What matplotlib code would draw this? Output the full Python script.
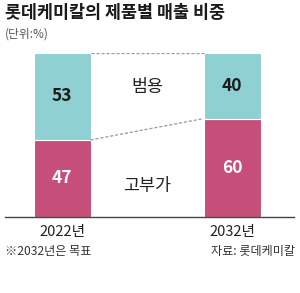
import matplotlib
matplotlib.use("Agg")
import matplotlib.pyplot as plt

plt.rcParams['font.family'] = ['Noto Sans CJK KR', 'DejaVu Sans']

years = ["2022년", "2032년"]
high_value = [47, 60]     # 고부가
general = [53, 40]        # 범용
title = "롯데케미칼의 제품별 매출 비중"
unit = "(단위:%)"
note = "※2032년은 목표"
source = "자료: 롯데케미칼"

teal = "#8fd0d2"
pink = "#c54f78"

W, H = 300, 293
fig = plt.figure(figsize=(W/100, H/100), dpi=100)
fig.patch.set_facecolor("white")

left_px, right_px, top_px, bot_px = 5, 294, 53, 217
ax = fig.add_axes([left_px/W, 1-bot_px/H, (right_px-left_px)/W, (bot_px-top_px)/H])
ax.set_ylim(0, 100)
unit_px = 170.0
c0 = 62
ax.set_xlim((left_px - c0)/unit_px, (right_px - c0)/unit_px)
bw = 57/unit_px
x = [0, 1]

ax.bar(x, high_value, width=bw, color=pink, edgecolor="white", linewidth=0.8)
ax.bar(x, general, width=bw, bottom=high_value, color=teal, edgecolor="white", linewidth=0.8)

tops = [h + g for h, g in zip(high_value, general)]
ax.plot([x[0]+bw/2, x[1]-bw/2], tops, ls=(0, (2.5, 1.5)), color="#999999", lw=0.9)
ax.plot([x[0]+bw/2, x[1]-bw/2], high_value, ls=(0, (2.5, 1.5)), color="#999999", lw=0.9)

for i in range(2):
    ax.text(x[i], high_value[i] + general[i]/2, str(general[i]), ha="center", va="center",
            fontsize=12.5, fontweight="bold", color="#1a1a1a")
    ax.text(x[i], high_value[i]/2, str(high_value[i]), ha="center", va="center",
            fontsize=12.5, fontweight="bold", color="white")

ax.text(0.5, 79, "범용", ha="center", va="center", fontsize=12.5, color="#222222")
ax.text(0.5, 19, "고부가", ha="center", va="center", fontsize=12.5, color="#222222")

for s in ["top", "right", "left"]:
    ax.spines[s].set_visible(False)
ax.spines["bottom"].set_color("#444444")
ax.spines["bottom"].set_linewidth(1.0)
ax.set_yticks([])
ax.set_xticks(x)
ax.set_xticklabels(years, fontsize=10.5, color="#222222")
ax.tick_params(axis="x", length=0, pad=6)

fig.text(5/W, 1-13/H, title, ha="left", va="center", fontsize=12.5, fontweight="bold", color="#1a1a1a")
fig.text(5/W, 1-34/H, unit, ha="left", va="center", fontsize=8.5, color="#555555")
fig.text(5/W, 1-252/H, note, ha="left", va="center", fontsize=8.7, color="#333333")
fig.text(295/W, 1-252/H, source, ha="right", va="center", fontsize=8.7, color="#333333")

fig.savefig("out.png", dpi=100, facecolor="white")
